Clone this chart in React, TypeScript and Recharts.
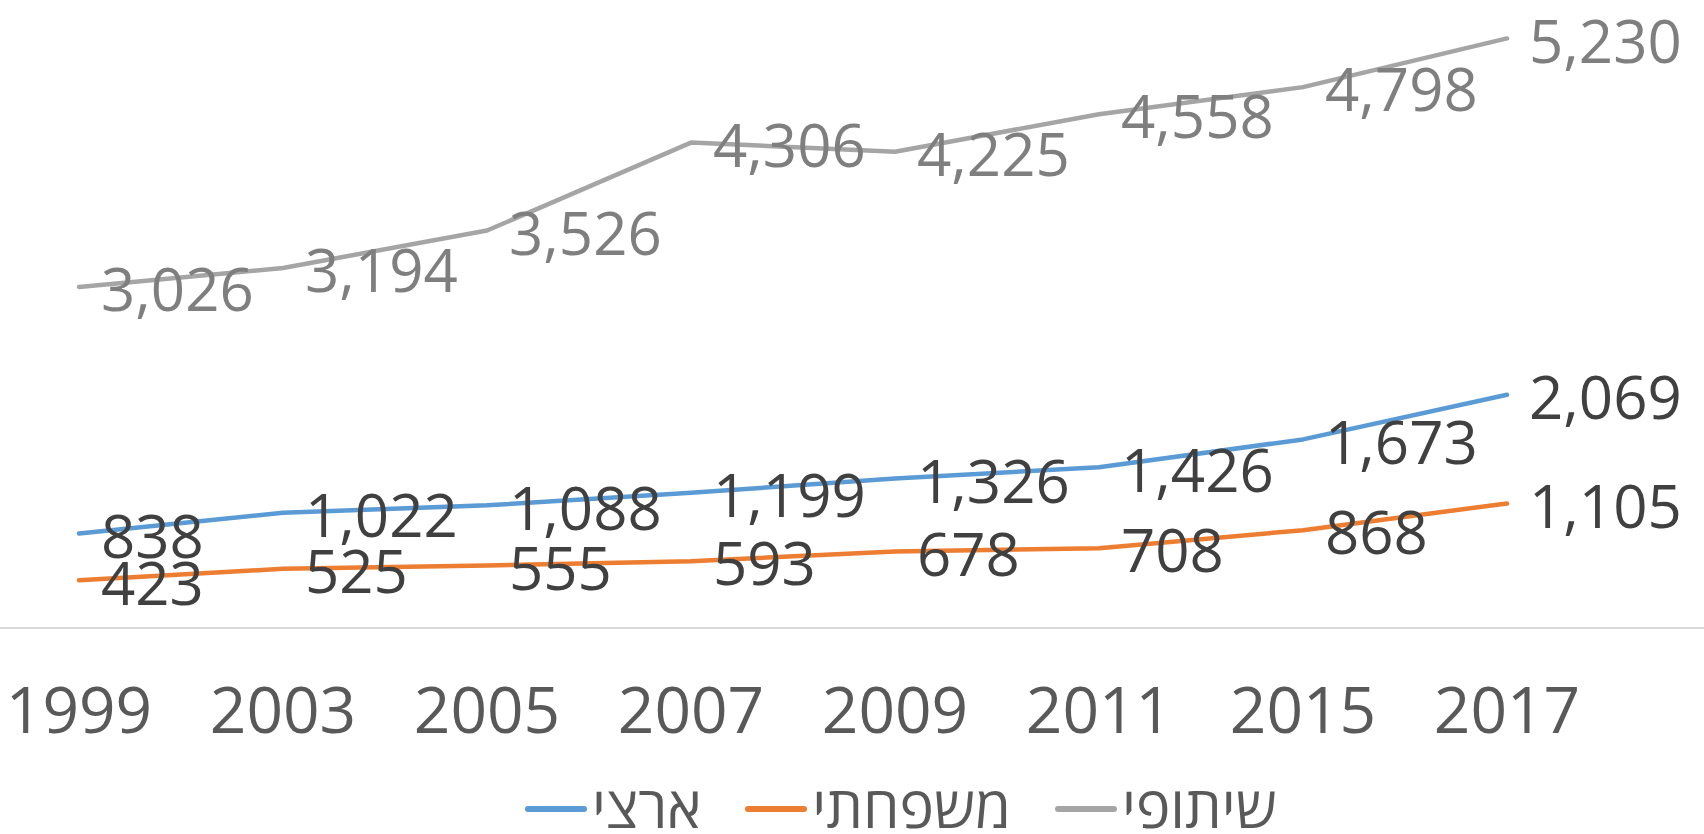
import React from "react";
import { LineChart, Line, XAxis, YAxis, Legend, LabelList } from "recharts";

const years = ["1999", "2003", "2005", "2007", "2009", "2011", "2015", "2017"];
const national = [838, 1022, 1088, 1199, 1326, 1426, 1673, 2069];
const family = [423, 525, 555, 593, 678, 708, 868, 1105];
const cooperative = [3026, 3194, 3526, 4306, 4225, 4558, 4798, 5230];

const seriesNames = ["ארצי", "משפחתי", "שיתופי"];
const seriesColors = ["#5B9BD5", "#ED7D31", "#A5A5A5"];
const labelColors = ["#404040", "#404040", "#7F7F7F"];

const FONT = "'Open Sans', 'DejaVu Sans', sans-serif";

const data = years.map((year, i) => ({
  year,
  national: national[i],
  family: family[i],
  cooperative: cooperative[i],
}));

const makeLabel = (color: string) => (props: any) => {
  const x = props.x ?? props.viewBox?.x;
  const y = props.y ?? props.viewBox?.y;
  if (x == null || y == null) return null;
  return (
    <text
      x={x + 22}
      y={y + 3}
      dy="0.355em"
      fill={color}
      fontSize={60}
      fontFamily={FONT}
    >
      {Number(props.value).toLocaleString("en-US")}
    </text>
  );
};

function ChartLegend() {
  return (
    <div
      style={{
        height: 76,
        boxSizing: "border-box",
        paddingTop: 20,
        paddingLeft: 525,
        display: "flex",
        alignItems: "center",
        fontFamily: FONT,
      }}
    >
      {seriesNames.map((name, i) => (
        <div
          key={name}
          style={{ display: "flex", alignItems: "center", marginRight: 44 }}
        >
          <span
            style={{
              display: "inline-block",
              width: 62,
              height: 6,
              borderRadius: 3,
              background: seriesColors[i],
              marginRight: 5,
              marginTop: 6,
            }}
          />
          <span
            dir="rtl"
            style={{ fontSize: 58, color: "#595959", lineHeight: "54px" }}
          >
            {name}
          </span>
        </div>
      ))}
    </div>
  );
}

export default function App() {
  const keys = ["national", "family", "cooperative"];
  return (
    <div style={{ width: 1704, height: 834, background: "#fff" }}>
      <style>{`body{margin:0}`}</style>
      <LineChart
        width={1704}
        height={834}
        data={data}
        margin={{ top: 8, right: 0, bottom: 0, left: 0 }}
      >
        <XAxis
          dataKey="year"
          height={130}
          padding={{ left: 79, right: 197 }}
          tickLine={false}
          tickSize={0}
          tickMargin={60}
          axisLine={{ stroke: "#D9D9D9", strokeWidth: 2 }}
          tick={{ fill: "#595959", fontSize: 64, fontFamily: FONT }}
          interval={0}
        />
        <YAxis hide domain={[0, 5500]} />
        {keys.map((k, i) => (
          <Line
            key={k}
            dataKey={k}
            name={seriesNames[i]}
            stroke={seriesColors[i]}
            strokeWidth={4.5}
            strokeLinecap="round"
            strokeLinejoin="round"
            dot={false}
            isAnimationActive={false}
          >
            <LabelList dataKey={k} content={makeLabel(labelColors[i])} />
          </Line>
        ))}
        <Legend verticalAlign="bottom" content={() => <ChartLegend />} />
      </LineChart>
    </div>
  );
}
